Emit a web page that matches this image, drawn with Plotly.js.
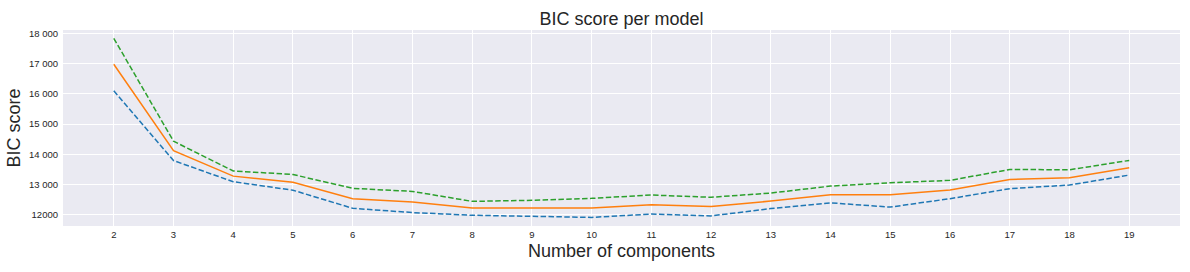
<!DOCTYPE html>
<html><head><meta charset="utf-8">
<script src="https://cdn.plot.ly/plotly-3.0.1.min.js"></script>
<style>html,body{margin:0;padding:0;background:#fff}#chart{width:1190px;height:272px}</style>
</head><body><div id="chart"></div>
<script>
const components = [2,3,4,5,6,7,8,9,10,11,12,13,14,15,16,17,18,19];
const bicLower = [16100,13790,13090,12810,12210,12070,11980,11950,11910,12020,11960,12200,12390,12250,12530,12860,12980,13310];
const bicMean  = [16975,14120,13275,13070,12530,12420,12220,12220,12220,12330,12270,12450,12660,12660,12815,13165,13220,13550];
const bicUpper = [17835,14430,13445,13330,12870,12770,12440,12475,12540,12650,12575,12715,12945,13055,13135,13495,13485,13795];
const yTickVals = [12000,13000,14000,15000,16000,17000,18000];
const yTickText = ["12000","13 000","14 000","15 000","16 000","17 000","18 000"];

const traces = [
  {x: components, y: bicLower, mode:'lines', line:{color:'#1f77b4', width:1.5, dash:'5.5px,2.4px'}},
  {x: components, y: bicMean, mode:'lines', line:{color:'#ff7f0e', width:1.5}},
  {x: components, y: bicUpper, mode:'lines', line:{color:'#2ca02c', width:1.5, dash:'5.5px,2.4px'}}
];
const layout = {
  width:1190, height:272,
  margin:{l:63, r:10, t:30, b:46},
  paper_bgcolor:'#ffffff', plot_bgcolor:'#eaeaf2',
  showlegend:false,
  font:{family:'Liberation Sans, Arial, sans-serif', color:'#262626'},
  title:{text:'BIC score per model', font:{size:18, color:'#262626'}, x:0.5, xref:'paper', xanchor:'center', y:1, yref:'paper', yanchor:'bottom', pad:{b:5}},
  xaxis:{range:[1.15,19.85], tickmode:'array', tickvals:components, ticktext:components.map(String),
    showgrid:true, gridcolor:'#ffffff', gridwidth:1, zeroline:false, showline:false, ticks:'',
    tickfont:{size:9.5, color:'#262626'}, ticklabelstandoff:1,
    title:{text:'Number of components', font:{size:18, color:'#262626'}, standoff:5}},
  yaxis:{range:[11625,18110], tickmode:'array', tickvals:yTickVals, ticktext:yTickText,
    showgrid:true, gridcolor:'#ffffff', gridwidth:1, zeroline:false, showline:false, ticks:'',
    tickfont:{size:9.5, color:'#262626'}, ticklabelstandoff:4,
    title:{text:'BIC score', font:{size:18, color:'#262626'}, standoff:3}}
};
Plotly.newPlot('chart', traces, layout, {staticPlot:true, displayModeBar:false});
</script></body></html>
